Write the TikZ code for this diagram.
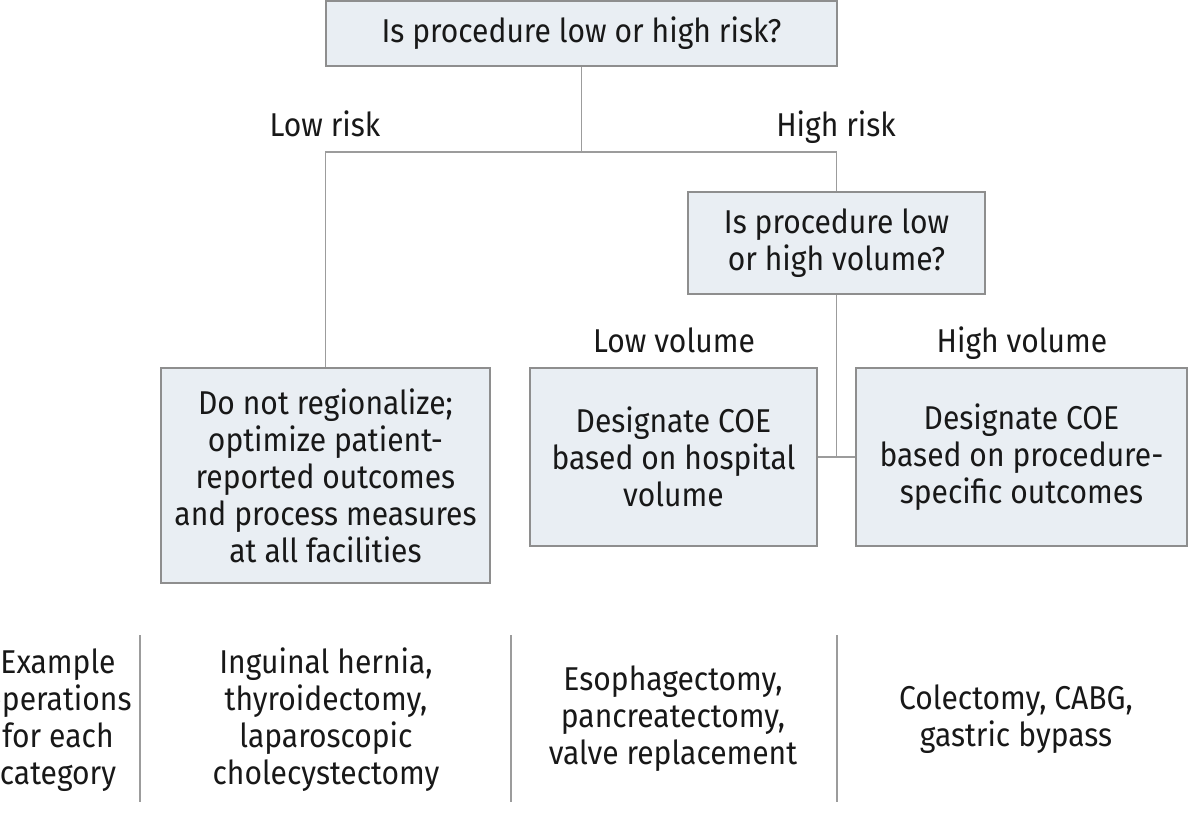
\documentclass[tikz,border=0pt]{standalone}
\usepackage{fontspec}
\setmainfont{Fira Sans}[FakeStretch=0.91]
\definecolor{boxfill}{HTML}{E9EEF3}
\definecolor{boxline}{HTML}{8E8E8E}
\definecolor{conn}{HTML}{9C9C9C}
\definecolor{ink}{HTML}{181818}
\begin{document}
\begin{tikzpicture}[x=1pt,y=-1pt,
  every node/.style={font=\fontsize{33}{37}\selectfont, text=ink, align=center, inner sep=0pt},
  box/.style={draw=boxline, line width=1.5pt, fill=boxfill},
  link/.style={draw=conn, line width=1.5pt},
  sep/.style={draw=conn, line width=1.8pt},
  lab/.style={anchor=base}]
\useasboundingbox (0,0) rectangle (1188,831);
\clip (0,0) rectangle (1188,831);
% boxes
\node[box, minimum width=511, minimum height=65] (q1) at (581.5,33.5) {Is procedure low or high risk?};
\node[box, minimum width=297, minimum height=102] (q2) at (836.5,243) {Is procedure low\\or high volume?};
\node[box, minimum width=329, minimum height=215] (low) at (325.5,475.5) {Do not regionalize;\\optimize patient-\\reported outcomes\\and process measures\\at all facilities};
\node[box, minimum width=287, minimum height=178] (lv) at (673.5,457) {Designate COE\\based on hospital\\volume};
\node[box, minimum width=331, minimum height=178] (hv) at (1021.5,457) {Designate COE\\based on procedure-\\specific outcomes};
% branch labels
\node[lab] (lrisk) at (325,136) {Low risk};
\node[lab] (hrisk) at (836,136) {High risk};
\node[lab] (lvol) at (674,352) {Low volume};
\node[lab] (hvol) at (1022,352) {High volume};
% connectors
\coordinate (j1) at (581.5,152);
\draw[link] (q1.south) -- (j1);
\draw[link] (low.north) -- (low.north |- j1) -- (q2.north |- j1) -- (q2.north);
\draw[link] (q2.south) -- (q2.south |- lv.east);
\draw[link] (lv.east) -- (hv.west);
% bottom row
\coordinate (s1t) at (140,635); \coordinate (s1b) at (140,802);
\coordinate (s2t) at (511,635); \coordinate (s2b) at (511,802);
\coordinate (s3t) at (837,635); \coordinate (s3b) at (837,802);
\draw[sep] (s1t) -- (s1b);
\draw[sep] (s2t) -- (s2b);
\draw[sep] (s3t) -- (s3b);
\node (ex) at (58,720) {Example\\operations\\for each\\category};
\node (e1) at (326,720) {Inguinal hernia,\\thyroidectomy,\\laparoscopic\\cholecystectomy};
\node (e2) at (673,719) {Esophagectomy,\\pancreatectomy,\\valve replacement};
\node (e3) at (1016,719) {Colectomy, CABG,\\gastric bypass};
\end{tikzpicture}
\end{document}
